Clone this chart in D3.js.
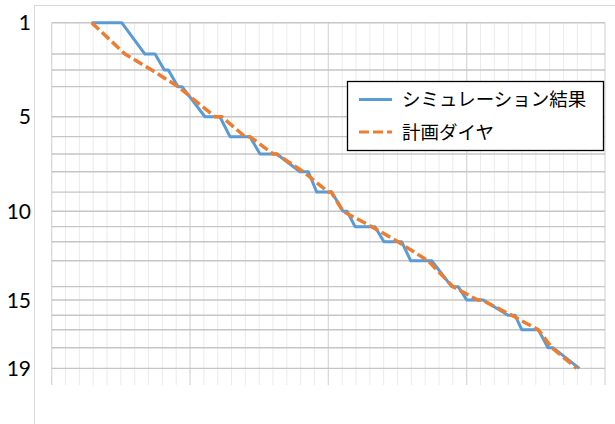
<!DOCTYPE html>
<html>
<head>
<meta charset="utf-8">
<script src="https://cdn.jsdelivr.net/npm/d3@7"></script>
<style>
  html, body { margin: 0; padding: 0; background: #fff; }
  svg { display: block; }
</style>
</head>
<body>
<div id="chart"></div>
<script>
// station positions along the line (distance, top = station 1)
const stationDist = [0, 1.73, 2.61, 3.53, 5.19, 6.29, 7.25, 8.23, 9.35, 10.41,
  11.26, 12.09, 13.14, 14.57, 15.31, 16.15, 16.95, 17.94, 19.08];
const stationLabels = [1, 5, 10, 15, 19];

// [minute, station number]
const simResult = [
  [2.89, 1], [5.06, 1], [6.74, 2], [7.47, 2], [8.14, 3], [8.43, 3],
  [9.13, 4], [9.42, 4], [11.08, 5], [12.16, 5], [12.89, 6], [14.33, 6],
  [15.06, 7], [16.27, 7], [17.95, 8], [18.55, 8], [19.16, 9], [20.24, 9],
  [21.06, 10], [21.35, 10], [21.93, 11], [23.37, 11], [24.02, 12], [25.30, 12],
  [25.95, 13], [27.47, 13], [28.92, 14], [29.39, 14], [30.0, 15], [31.2, 15],
  [32.99, 16], [33.5, 16], [33.98, 17], [35.18, 17], [35.88, 18], [36.24, 18],
  [38.14, 19]
];
const plannedDiagram = [
  [2.89, 1], [5.30, 2], [7.23, 3], [9.13, 4], [11.81, 5], [12.29, 5],
  [13.97, 6], [14.33, 6], [16.02, 7], [16.27, 7], [18.19, 8], [20.0, 9],
  [20.2, 9], [21.06, 10], [23.13, 11], [25.03, 12], [27.2, 13], [29.01, 14],
  [30.8, 15], [31.1, 15], [33.25, 16], [35.18, 17], [36.15, 18], [37.95, 19]
];
const seriesNames = ["シミュレーション結果", "計画ダイヤ"];

const width = 615, height = 424;

const svg = d3.select("#chart").append("svg")
  .attr("width", width)
  .attr("height", height);

// chart area border
svg.append("rect")
  .attr("x", 34.5).attr("y", 5.5)
  .attr("width", 620).attr("height", 460)
  .attr("fill", "none")
  .attr("stroke", "#d9d9d9");

const x = d3.scaleLinear().domain([0, 40]).range([51.7, 605]);
const y = d3.scaleLinear().domain([0, 20]).range([22.7, 385]);

// vertical grid (minor then major)
svg.append("g")
  .selectAll("line")
  .data(x.ticks(40))
  .enter().append("line")
  .attr("x1", d => x(d)).attr("x2", d => x(d))
  .attr("y1", y(0)).attr("y2", y(20))
  .attr("stroke", d => d % 10 === 0 ? "#d9d9d9" : "#ebebeb")
  .attr("stroke-width", d => d % 10 === 0 ? 1.3 : 1);

// station lines
svg.append("g")
  .selectAll("line")
  .data(stationDist)
  .enter().append("line")
  .attr("x1", x(0)).attr("x2", x(40))
  .attr("y1", d => y(d)).attr("y2", d => y(d))
  .attr("stroke", "#c6c6c6")
  .attr("stroke-width", 1.4);

// station labels
svg.append("g")
  .selectAll("text")
  .data(stationLabels)
  .enter().append("text")
  .attr("x", 31)
  .attr("y", d => y(stationDist[d - 1]))
  .attr("dy", "0.36em")
  .attr("text-anchor", "end")
  .attr("font-family", "Lato, 'Liberation Sans', sans-serif")
  .attr("font-size", 21)
  .attr("fill", "#000")
  .text(d => d);

const line = d3.line()
  .x(d => x(d[0]))
  .y(d => y(stationDist[d[1] - 1]));

svg.append("path")
  .datum(simResult)
  .attr("d", line)
  .attr("fill", "none")
  .attr("stroke", "#5B9BD5")
  .attr("stroke-width", 3)
  .attr("stroke-linejoin", "round");

svg.append("path")
  .datum(plannedDiagram)
  .attr("d", line)
  .attr("fill", "none")
  .attr("stroke", "#ED7D31")
  .attr("stroke-width", 3.5)
  .attr("stroke-dasharray", "10,4");

// legend
const legend = svg.append("g");
legend.append("rect")
  .attr("x", 347.5).attr("y", 81.5)
  .attr("width", 256).attr("height", 69)
  .attr("fill", "#fff")
  .attr("stroke", "#000")
  .attr("stroke-width", 1.3);

const styles = [
  { color: "#5B9BD5", dash: null },
  { color: "#ED7D31", dash: "10,4" }
];
seriesNames.forEach((name, i) => {
  const ly = 99.5 + i * 32.5;
  legend.append("line")
    .attr("x1", 359).attr("x2", 392)
    .attr("y1", ly).attr("y2", ly)
    .attr("stroke", styles[i].color)
    .attr("stroke-width", 3)
    .attr("stroke-dasharray", styles[i].dash);
  legend.append("text")
    .attr("x", 402)
    .attr("y", ly)
    .attr("dy", "0.36em")
    .attr("font-family", "'Noto Sans CJK JP', sans-serif")
    .attr("font-size", 18.5)
    .attr("fill", "#000")
    .text(name);
});
</script>
</body>
</html>
